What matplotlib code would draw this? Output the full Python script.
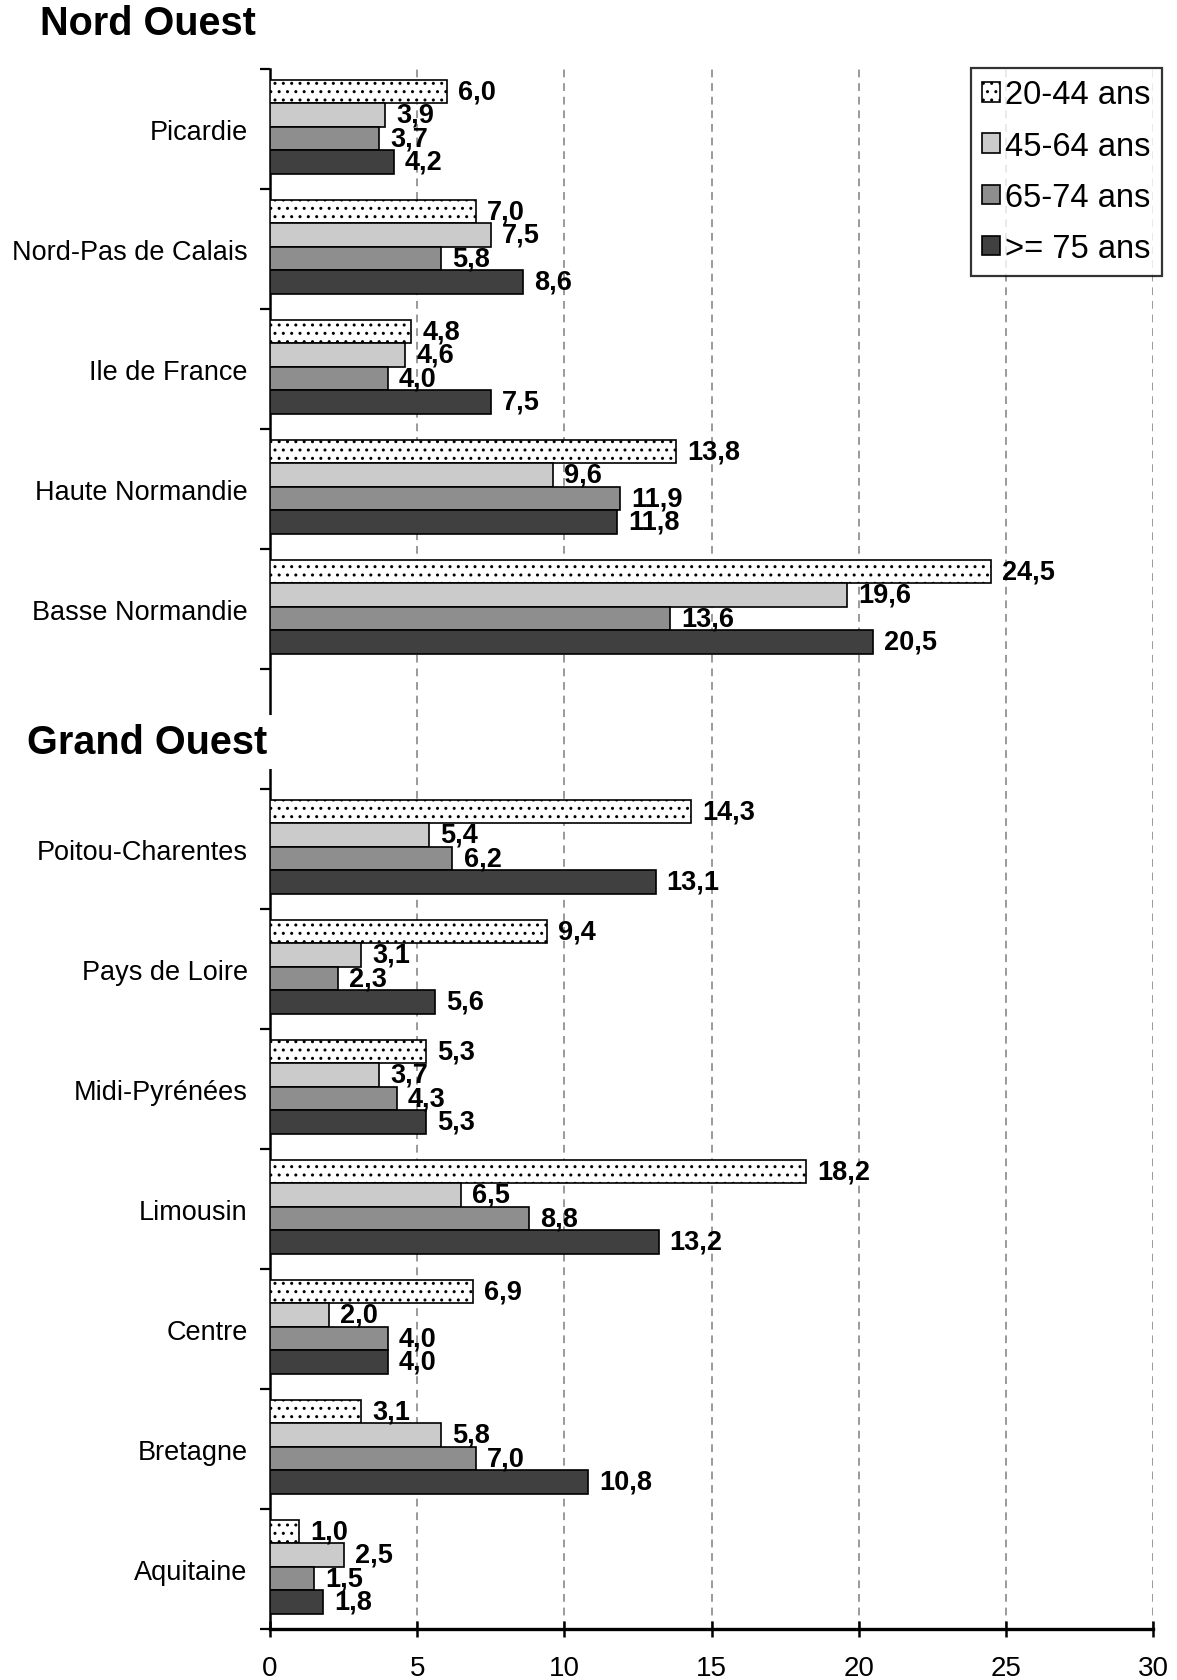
import matplotlib.pyplot as plt
import numpy as np

plt.rcParams['font.family'] = ['Liberation Sans', 'DejaVu Sans']
plt.rcParams['hatch.linewidth'] = 1.0

# data (top to bottom), None = empty slot between the two groups
regions = ['Picardie', 'Nord-Pas de Calais', 'Ile de France', 'Haute Normandie',
           'Basse Normandie', None, 'Poitou-Charentes', 'Pays de Loire',
           'Midi-Pyrénées', 'Limousin', 'Centre', 'Bretagne', 'Aquitaine']
age_groups = ['20-44 ans', '45-64 ans', '65-74 ans', '>= 75 ans']
v_20_44 = [6.0, 7.0, 4.8, 13.8, 24.5, None, 14.3, 9.4, 5.3, 18.2, 6.9, 3.1, 1.0]
v_45_64 = [3.9, 7.5, 4.6, 9.6, 19.6, None, 5.4, 3.1, 3.7, 6.5, 2.0, 5.8, 2.5]
v_65_74 = [3.7, 5.8, 4.0, 11.9, 13.6, None, 6.2, 2.3, 4.3, 8.8, 4.0, 7.0, 1.5]
v_75 = [4.2, 8.6, 7.5, 11.8, 20.5, None, 13.1, 5.6, 5.3, 13.2, 4.0, 10.8, 1.8]
series = [v_20_44, v_45_64, v_65_74, v_75]
group_titles = ['Nord Ouest', 'Grand Ouest']

colors = ['white', '#cbcbcb', '#8e8e8e', '#404040']
hatches = ['..', None, None, None]

fig = plt.figure(figsize=(11.77, 16.81), dpi=100)
ax = fig.add_axes([270 / 1177, 51 / 1681, (1153 - 270) / 1177, (1630 - 70) / 1681])

n = len(regions)
bar_h = 0.196
idx = [i for i, r in enumerate(regions) if r is not None]
for k, vals in enumerate(series):
    ys = np.array(idx) + (k - 1.5) * bar_h - 0.02
    xs = [vals[i] for i in idx]
    ax.barh(ys, xs, height=bar_h, color=colors[k], edgecolor='black',
            linewidth=1.2, hatch=hatches[k], label=age_groups[k], zorder=3)
    for y, x in zip(ys, xs):
        ax.annotate(f'{x:.1f}'.replace('.', ','), (x, y), xytext=(8, 0),
                    textcoords='offset points', ha='left', va='center',
                    fontsize=19.5, fontweight='bold', zorder=4)

ax.set_xlim(0, 30)
ax.set_ylim(n - 0.5, -0.5)
ax.set_xticks(range(0, 31, 5))
ax.set_yticks(idx)
ax.set_yticklabels([regions[i] for i in idx])
ax.set_yticks(np.arange(-0.5, n, 1.0), minor=True)

ax.tick_params(axis='y', which='major', length=0, pad=16, labelsize=19.5)
ax.tick_params(axis='y', which='minor', length=7, width=1.6, direction='out')
ax.tick_params(axis='x', which='major', length=12, width=1.8, direction='inout',
               pad=13, labelsize=20)

ax.spines['top'].set_visible(False)
ax.spines['right'].set_visible(False)
ax.spines['left'].set_linewidth(1.8)
ax.spines['bottom'].set_linewidth(2.4)
ax.grid(axis='x', linestyle=(0, (4, 3)), color='#9a9a9a', linewidth=1.4, zorder=0)
ax.set_axisbelow(True)

leg = ax.legend(loc='upper right', bbox_to_anchor=(1162 / 1177, 1 - 69 / 1681),
                bbox_transform=fig.transFigure, fontsize=23.5, frameon=True,
                fancybox=False, edgecolor='black', handlelength=0.55,
                handleheight=0.55, handletextpad=0.15, labelspacing=0.62,
                borderpad=0.35, borderaxespad=0)
leg.get_frame().set_linewidth(1.6)

fig.text(40 / 1177, 1 - 24 / 1681, group_titles[0], fontsize=28.5, fontweight='bold',
         ha='left', va='center')
fig.text(27 / 1177, 1 - 743 / 1681, group_titles[1], fontsize=28.5, fontweight='bold',
         ha='left', va='center',
         bbox=dict(facecolor='white', edgecolor='none', pad=6))

fig.savefig('out.png', dpi=100)
